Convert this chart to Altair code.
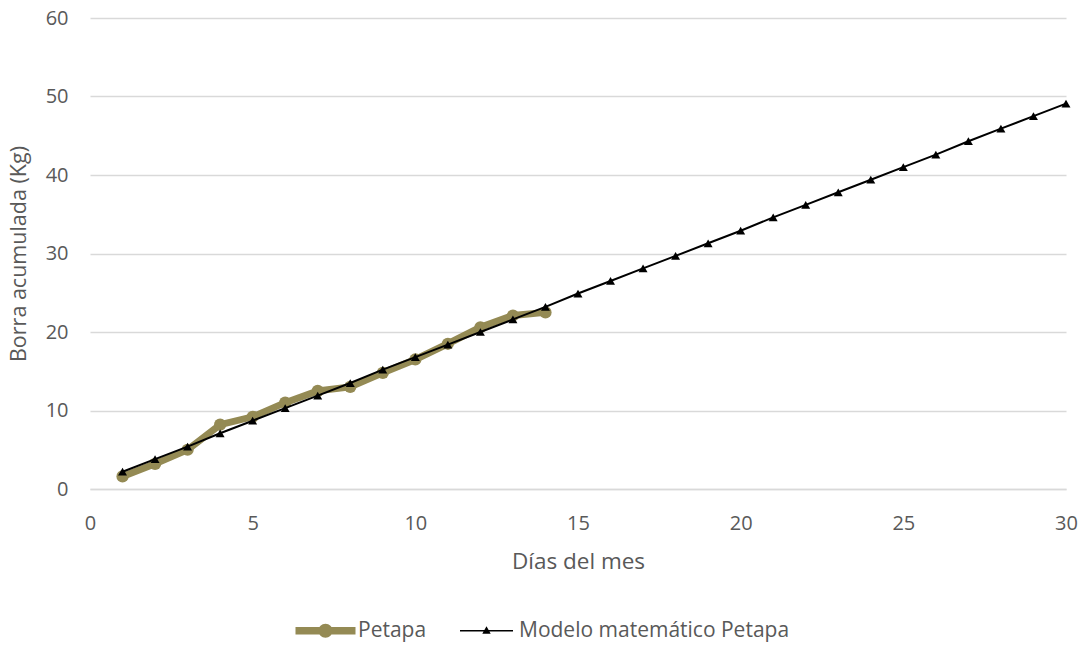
import altair as alt
import pandas as pd

dias_petapa = list(range(1, 15))
petapa = [1.6, 3.2, 5.0, 8.2, 9.2, 11.0, 12.5, 13.0, 14.8, 16.5, 18.5, 20.6, 22.1, 22.5]

dias_modelo = list(range(1, 31))
modelo = [2.2, 3.8, 5.4, 7.1, 8.7, 10.3, 11.9, 13.5, 15.2, 16.8,
          18.4, 20.0, 21.6, 23.2, 24.9, 26.5, 28.1, 29.7, 31.3, 32.9,
          34.6, 36.2, 37.8, 39.4, 41.0, 42.6, 44.3, 45.9, 47.5, 49.1]

series = ["Petapa", "Modelo matemático Petapa"]
colors = ["#948A54", "#000000"]

df_p = pd.DataFrame({"dia": dias_petapa, "kg": petapa, "serie": series[0]})
df_m = pd.DataFrame({"dia": dias_modelo, "kg": modelo, "serie": series[1]})
df_all = pd.concat([df_p, df_m])

FONT = "Open Sans"
GREY = "#595959"

x = alt.X("dia:Q", title="Días del mes",
          scale=alt.Scale(domain=[0, 30], nice=False),
          axis=alt.Axis(values=[0, 5, 10, 15, 20, 25, 30], grid=False, ticks=False,
                        domain=True, domainColor="#d9d9d9", domainWidth=1.3,
                        labelFlush=False, labelPadding=24, titlePadding=17,
                        titleFontSize=22.5))
y = alt.Y("kg:Q", title="Borra acumulada (Kg)",
          scale=alt.Scale(domain=[0, 60], nice=False),
          axis=alt.Axis(values=[0, 10, 20, 30, 40, 50, 60], grid=True, gridColor="#d9d9d9",
                        gridWidth=1.3, ticks=False, domain=False, labelPadding=22,
                        labelFlush=False, titlePadding=15, titleFontSize=21.5))

line_p = alt.Chart(df_p).mark_line(color=colors[0], strokeWidth=7).encode(x=x, y=y)
pts_p = alt.Chart(df_p).mark_point(shape="circle", filled=True, opacity=1,
                                   color=colors[0], size=150).encode(x=x, y=y)
line_m = alt.Chart(df_m).mark_line(color=colors[1], strokeWidth=2).encode(x=x, y=y)
pts_m = alt.Chart(df_m).mark_point(shape="triangle-up", filled=True, opacity=1,
                                   color=colors[1], size=80).encode(x=x, y=y)

sym_petapa = ("M-3.0,-0.38 L3.0,-0.38 L3.0,0.38 L-3.0,0.38 Z "
              "M-0.7,0 A0.7,0.7 0 1,1 0.7,0 A0.7,0.7 0 1,1 -0.7,0 Z")
sym_modelo = ("M-2.65,-0.08 L2.65,-0.08 L2.65,0.08 L-2.65,0.08 Z "
              "M0,-0.45 L0.42,0.3 L-0.42,0.3 Z")

legend_layer = alt.Chart(df_all).mark_point(filled=True, opacity=0, size=400).encode(
    x=x, y=y,
    color=alt.Color("serie:N", scale=alt.Scale(domain=series, range=colors),
                    legend=alt.Legend(title=None, orient="none", direction="horizontal",
                                      legendX=205, legendY=602,
                                      symbolOpacity=1, symbolSize=400,
                                      symbolStrokeWidth=0,
                                      symbolOffset=20, labelOffset=22,
                                      columnPadding=29, labelLimit=400,
                                      labelFont=FONT, labelFontSize=21,
                                      labelColor=GREY)),
    shape=alt.Shape("serie:N", scale=alt.Scale(domain=series, range=[sym_petapa, sym_modelo]),
                    legend=None),
)

chart = alt.layer(line_p, pts_p, line_m, pts_m, legend_layer).properties(
    width=976, height=471,
    autosize=alt.AutoSizeParams(type="none"),
    padding={"left": 90, "top": 18, "right": 20, "bottom": 156},
).configure_axis(
    labelFont=FONT, labelFontSize=20, labelColor=GREY,
    titleFont=FONT, titleColor=GREY, titleFontWeight="normal",
).configure_view(stroke=None)

chart.save("out.html", embed_options={"renderer": "svg", "actions": False})
